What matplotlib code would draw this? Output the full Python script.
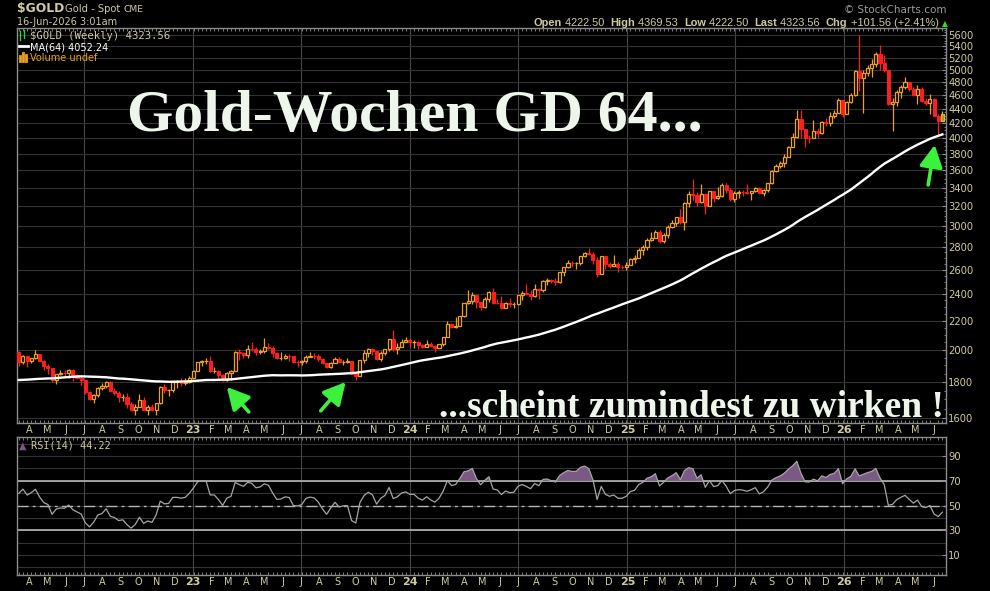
import matplotlib
matplotlib.use("Agg")
import matplotlib.pyplot as plt
import matplotlib.dates as mdates
from matplotlib.patches import Rectangle
from matplotlib.lines import Line2D
from matplotlib.ticker import FixedLocator, NullFormatter
import numpy as np
import pandas as pd

# weekly closes before the visible window (Dec 2020 - Mar 2022), only used to warm up MA(64) / RSI(14)
history_closes = [
    1839, 1881, 1877, 1895,
    1850, 1828, 1856, 1848, 1813, 1824, 1784, 1734, 1700, 1727, 1745, 1733, 1729,
    1744, 1777, 1777, 1769, 1831, 1844, 1881, 1903, 1892, 1877, 1764, 1781, 1783,
    1808, 1812, 1802, 1814, 1763, 1780, 1781, 1818, 1827, 1788, 1754, 1750, 1761,
    1757, 1768, 1793, 1783, 1818, 1865, 1846, 1788, 1783, 1784, 1798, 1811, 1829,
    1797, 1817, 1835, 1791, 1807, 1859, 1898, 1889, 1970, 1988,
]

first_week = "2022-03-14"

closes_2022 = [1921, 1958, 1925, 1945, 1974, 1931, 1896, 1883, 1811, 1846, 1853, 1851, 1871, 1840,
               1826, 1811, 1742, 1703, 1727, 1766, 1775, 1802, 1747, 1737, 1712, 1716, 1675, 1643,
               1660, 1695, 1644, 1656, 1644, 1681, 1769, 1751, 1754, 1797, 1797, 1793, 1798, 1824]
highs_2022 = [1990, 1966, 1950, 1948, 1998, 1958, 1935, 1910, 1885, 1850, 1870, 1874, 1877, 1879,
              1847, 1835, 1814, 1745, 1728, 1768, 1794, 1806, 1803, 1765, 1745, 1730, 1735, 1688,
              1676, 1730, 1715, 1668, 1675, 1682, 1774, 1786, 1758, 1804, 1810, 1824, 1823, 1833]
lows_2022 = [1895, 1910, 1890, 1915, 1940, 1925, 1872, 1850, 1798, 1787, 1840, 1828, 1825, 1805,
             1816, 1785, 1732, 1697, 1680, 1711, 1754, 1764, 1744, 1727, 1688, 1690, 1654, 1640,
             1615, 1660, 1640, 1617, 1638, 1616, 1676, 1737, 1722, 1742, 1766, 1774, 1785, 1795]

closes_2023 = [1865, 1920, 1926, 1928, 1865, 1865, 1842, 1811, 1856, 1868, 1988, 1978, 1969, 2008,
               2004, 1983, 1990, 2017, 2011, 1978, 1946, 1948, 1961, 1958, 1921, 1919, 1925, 1955,
               1962, 1959, 1943, 1914, 1889, 1915, 1940, 1919, 1924, 1925, 1849, 1833, 1933, 1981,
               2006, 1993, 1940, 1981, 2002, 2072, 2004, 2019, 2053, 2063]
highs_2023 = [1870, 1922, 1937, 1949, 1959, 1890, 1870, 1848, 1858, 1870, 1990, 2003, 1987, 2032,
              2049, 2015, 2003, 2081, 2048, 2022, 1985, 1985, 1970, 1971, 1960, 1933, 1935, 1963,
              1987, 1982, 1970, 1948, 1916, 1924, 1953, 1953, 1932, 1947, 1925, 1857, 1936, 1997,
              2009, 2010, 1993, 1994, 2008, 2075, 2135, 2047, 2070, 2088]
lows_2023 = [1824, 1866, 1896, 1911, 1862, 1855, 1819, 1808, 1804, 1809, 1880, 1934, 1949, 1950,
             1992, 1969, 1975, 1980, 2004, 1952, 1940, 1932, 1939, 1925, 1915, 1893, 1903, 1915,
             1951, 1942, 1926, 1911, 1885, 1884, 1913, 1915, 1901, 1913, 1846, 1810, 1833, 1918,
             1953, 1969, 1932, 1931, 1965, 1995, 1990, 1973, 2016, 2052]

closes_2024 = [2049, 2049, 2029, 2018, 2040, 2024, 2013, 2035, 2083, 2179, 2155, 2165, 2230, 2330,
               2344, 2391, 2337, 2301, 2360, 2415, 2334, 2327, 2294, 2333, 2321, 2326, 2391, 2411,
               2400, 2387, 2443, 2431, 2507, 2512, 2503, 2497, 2578, 2622, 2658, 2653, 2656, 2721,
               2747, 2736, 2685, 2563, 2716, 2650, 2633, 2648, 2622, 2621, 2640]
highs_2024 = [2079, 2062, 2060, 2037, 2066, 2049, 2032, 2041, 2088, 2195, 2185, 2223, 2236, 2331,
              2431, 2418, 2390, 2336, 2378, 2422, 2450, 2365, 2388, 2335, 2369, 2340, 2393, 2424,
              2484, 2433, 2477, 2444, 2510, 2531, 2525, 2529, 2581, 2625, 2685, 2673, 2665, 2722,
              2758, 2790, 2750, 2710, 2721, 2721, 2665, 2726, 2664, 2638, 2665]
lows_2024 = [2017, 2013, 2002, 2010, 2016, 2015, 1984, 2012, 2025, 2082, 2146, 2146, 2160, 2228,
             2325, 2325, 2292, 2277, 2291, 2335, 2326, 2323, 2286, 2295, 2303, 2293, 2319, 2352,
             2392, 2353, 2380, 2364, 2419, 2470, 2492, 2472, 2485, 2546, 2617, 2624, 2603, 2643,
             2708, 2730, 2644, 2536, 2564, 2605, 2613, 2627, 2583, 2602, 2596]

closes_2025 = [2690, 2703, 2771, 2800, 2861, 2883, 2936, 2858, 2910, 2984, 3023, 3084, 3037, 3237,
               3327, 3319, 3241, 3325, 3204, 3357, 3289, 3310, 3432, 3368, 3274, 3337, 3355, 3350,
               3337, 3363, 3398, 3336, 3371, 3447, 3586, 3643, 3685, 3760, 3886, 4018, 4250, 4113,
               4002, 4000, 4085, 4065, 4220, 4200, 4300, 4340, 4530, 4330]
highs_2025 = [2697, 2726, 2786, 2817, 2886, 2942, 2955, 2956, 2930, 3004, 3057, 3087, 3167, 3245,
              3357, 3500, 3352, 3435, 3345, 3366, 3365, 3403, 3446, 3452, 3398, 3366, 3369, 3375,
              3439, 3364, 3410, 3407, 3380, 3454, 3600, 3674, 3707, 3791, 3897, 4060, 4380, 4381,
              4060, 4038, 4245, 4133, 4230, 4265, 4355, 4375, 4550, 4510]
lows_2025 = [2635, 2656, 2696, 2730, 2772, 2858, 2880, 2833, 2832, 2880, 2982, 2999, 3015, 2957,
             3194, 3260, 3202, 3228, 3120, 3205, 3245, 3271, 3294, 3340, 3256, 3247, 3282, 3309,
             3324, 3268, 3352, 3330, 3311, 3352, 3436, 3578, 3628, 3640, 3760, 3880, 4000, 4004,
             3887, 3930, 3995, 4000, 4045, 4160, 4160, 4270, 4340, 4280]

closes_2026 = [4500, 4600, 4980, 4860, 4950, 5030, 5100, 5270, 5110, 4990, 4470, 4500, 4650, 4730,
               4800, 4700, 4600, 4690, 4520, 4490, 4540, 4300, 4222.00, 4323.56]
highs_2026 = [4520, 4640, 4990, 5600, 5000, 5080, 5170, 5290, 5420, 5240, 5000, 4560, 4680, 4760,
              4880, 4810, 4730, 4760, 4720, 4560, 4620, 4560, 4330, 4369.53]
lows_2026 = [4320, 4480, 4590, 4670, 4340, 4900, 4880, 5050, 5000, 4970, 4460, 4090, 4440, 4560,
             4700, 4670, 4580, 4470, 4500, 4450, 4330, 4280, 4040, 4222.50]
last_open = 4222.50

ma_label_value = 4052.24
rsi_label_value = 44.22

price_ticks = list(range(1600, 5601, 200))
rsi_ticks = [10, 30, 50, 70, 90]

# green arrows: (tail date, tail price, tip date, tip price)
arrows = [
    ("2023-04-05", 1632, "2023-02-27", 1771),
    ("2023-08-04", 1638, "2023-09-15", 1800),
    ("2026-05-22", 3430, "2026-06-02", 3910),
]

closes = closes_2022 + closes_2023 + closes_2024 + closes_2025 + closes_2026
highs = highs_2022 + highs_2023 + highs_2024 + highs_2025 + highs_2026
lows = lows_2022 + lows_2023 + lows_2024 + lows_2025 + lows_2026
opens = [history_closes[-1]] + closes[:-1]
opens[-1] = last_open

dates = pd.date_range(first_week, periods=len(closes), freq="7D")
hist_dates = pd.date_range(end=dates[0] - pd.Timedelta(days=7), periods=len(history_closes), freq="7D")
all_close = pd.Series(history_closes + closes, index=hist_dates.append(dates))

ma64 = all_close.rolling(64).mean().loc[dates]
delta = all_close.diff()
avg_gain = delta.clip(lower=0).ewm(alpha=1 / 14, adjust=False).mean()
avg_loss = (-delta.clip(upper=0)).ewm(alpha=1 / 14, adjust=False).mean()
rsi = (100 - 100 / (1 + avg_gain / avg_loss)).loc[dates]

# colours
BG = "black"
TAN = "#cfcba0"
UP = "#eea21c"
DOWN = "#ff1e1e"
GRID = "#333333"
VGRID = "#474747"
FRAME = "#8c8c8c"
RSI_FILL = "#7a5a84"
ARROW = "#3cf03c"
TITLE = "#eef6ec"

W, H = 990, 591
fig = plt.figure(figsize=(W / 100, H / 100), dpi=100, facecolor=BG)


def px_axes(left, top, right, bottom):
    return fig.add_axes([left / W, 1 - bottom / H, (right - left) / W, (bottom - top) / H], facecolor=BG)


def fxy(x, y):
    return x / W, 1 - y / H


ax = px_axes(17, 28, 946, 423)
rax = px_axes(17, 437, 946, 575)

xnum = mdates.date2num(dates)
xmin, xmax = mdates.date2num(pd.Timestamp("2022-03-11")), mdates.date2num(pd.Timestamp("2026-06-21"))
month_starts = pd.date_range("2022-04-01", "2026-06-01", freq="MS")
month_labels = [d.strftime("%y") if d.month == 1 else d.strftime("%b")[0] for d in month_starts]
grid_dates = [d for d in month_starts if d.month in (1, 7)]

# ---- price panel
ax.set_yscale("log")
ax.set_ylim(1574, 5730)
for d in grid_dates:
    ax.axvline(mdates.date2num(d), color=VGRID, lw=0.8, zorder=0)
ax.yaxis.grid(True, which="major", color=GRID, lw=0.8, zorder=0)

body_w = 5.2
n = len(closes)
for i in range(n):
    o, c, h, l = opens[i], closes[i], highs[i], lows[i]
    x = xnum[i]
    if i == n - 1:
        ax.vlines(x, l, h, color="#d8c030", lw=0.9, zorder=2)
        ax.add_patch(Rectangle((x - body_w / 2, min(o, c)), body_w, abs(c - o), facecolor="#a88e18",
                               edgecolor="#d8c030", lw=0.9, zorder=3))
        continue
    col = UP if c >= o else DOWN
    ax.vlines(x, l, h, color=col, lw=0.9, zorder=2)
    if c >= o:
        ax.add_patch(Rectangle((x - body_w / 2, o), body_w, max(c - o, 0.5), facecolor=BG,
                               edgecolor=col, lw=0.9, zorder=3))
    else:
        ax.add_patch(Rectangle((x - body_w / 2, c), body_w, o - c, facecolor=col,
                               edgecolor=col, lw=0.7, zorder=3))

ax.plot(xnum, ma64.values, color="white", lw=1.7, zorder=4)

ax.yaxis.tick_right()
ax.set_yticks(price_ticks, labels=[str(t) for t in price_ticks])
ax.yaxis.set_minor_locator(FixedLocator(list(range(1600, 5701, 50))))
ax.yaxis.set_minor_formatter(NullFormatter())

# ---- RSI panel
rax.set_ylim(-6.3, 105.5)
for v in range(0, 101, 10):
    rax.axhline(v, color=GRID, lw=0.8, zorder=0)
for d in grid_dates:
    rax.axvline(mdates.date2num(d), color=VGRID, lw=0.8, zorder=0)
rax.axhline(70, color="#c4c4c4", lw=1.1, zorder=1)
rax.axhline(30, color="#c4c4c4", lw=1.1, zorder=1)
rax.axhline(50, color="#b4b4b4", lw=1.0, ls=(0, (8, 3, 2, 3)), zorder=1)
rv = rsi.values
rax.fill_between(xnum, rv, 70, where=rv >= 70, interpolate=True, color=RSI_FILL, lw=0, zorder=2)
rax.fill_between(xnum, rv, 30, where=rv <= 30, interpolate=True, color=RSI_FILL, lw=0, zorder=2)
rax.plot(xnum, rv, color="#a6a6a6", lw=0.9, zorder=3)
rax.yaxis.tick_right()
rax.set_yticks(rsi_ticks, labels=[str(t) for t in rsi_ticks])

# ---- shared axis styling
for a in (ax, rax):
    a.set_xlim(xmin, xmax)
    a.set_xticks(mdates.date2num(month_starts), labels=month_labels)
    a.xaxis.set_minor_locator(FixedLocator(mdates.date2num(pd.date_range("2022-03-14", "2026-06-21", freq="7D"))))
    a.tick_params(axis="x", which="major", length=0, pad=1.5, labelsize=7, labelcolor=TAN)
    a.tick_params(axis="x", which="minor", length=2, direction="in", color=FRAME, top=True, bottom=True)
    a.tick_params(axis="y", which="major", length=3, direction="in", color=FRAME, pad=1.5,
                  labelsize=7.2, labelcolor=TAN)
    a.tick_params(axis="y", which="minor", length=1.5, direction="in", color=FRAME)
    for lab, txt in zip(a.get_xticklabels(), month_labels):
        if txt.isdigit():
            lab.set_fontweight("bold")
            lab.set_fontsize(8)
    for s in a.spines.values():
        s.set_color(FRAME)
        s.set_linewidth(1)

# ---- arrows
for tx, ty, hx, hy in arrows:
    ax.annotate("", xy=(mdates.date2num(pd.Timestamp(hx)), hy),
                xytext=(mdates.date2num(pd.Timestamp(tx)), ty),
                arrowprops=dict(arrowstyle="-|>,head_length=0.95,head_width=0.5", color=ARROW, lw=2.6,
                                mutation_scale=14, shrinkA=0, shrinkB=0), zorder=6)

# ---- big annotations
fig.text(*fxy(127, 131), "Gold-Wochen GD 64...", family="Liberation Serif", weight="bold",
         fontsize=43, color=TITLE, va="baseline", ha="left", zorder=10)
fig.text(*fxy(944, 417), "...scheint zumindest zu wirken !", family="Liberation Serif", weight="bold",
         fontsize=27, color=TITLE, va="baseline", ha="right", zorder=10)

# ---- header
fig.text(*fxy(17, 12), "$GOLD", fontsize=8.8, weight="bold", color=TAN, va="baseline")
fig.text(*fxy(65, 12), "Gold - Spot", fontsize=7.2, color=TAN, va="baseline")
fig.text(*fxy(123, 12), "CME", fontsize=6.6, color=TAN, va="baseline")
fig.text(*fxy(17, 25), "16-Jun-2026 3:01am", fontsize=7, color=TAN, va="baseline")
fig.text(*fxy(946, 13), "\u00a9 StockCharts.com", fontsize=7.5, color="#9a9a9a", va="baseline", ha="right")

chg = closes[-1] - closes[-2]
pct = chg / closes[-2] * 100
pieces = [("Open", "bold"), (f" {opens[-1]:.2f}  ", "normal"),
          ("High", "bold"), (f" {highs[-1]:.2f}  ", "normal"),
          ("Low", "bold"), (f" {lows[-1]:.2f}  ", "normal"),
          ("Last", "bold"), (f" {closes[-1]:.2f}  ", "normal"),
          ("Chg", "bold"), (f" {chg:+.2f} ({pct:+.2f}%) ", "normal")]
renderer = fig.canvas.get_renderer()
xpos = 534
for s, wgt in pieces:
    t = fig.text(*fxy(xpos, 26), s, family="Liberation Sans", fontsize=7.9, weight=wgt, color=TAN,
                 va="baseline", ha="left")
    xpos += t.get_window_extent(renderer).width
fig.text(*fxy(xpos, 26), "\u25b2", fontsize=5.5, color="#30e030", va="baseline", ha="left")

# ---- legends
fig.add_artist(Line2D([20 / W, 20 / W], [1 - 31 / H, 1 - 40 / H], color="#30d030", lw=1))
fig.add_artist(Line2D([24 / W, 24 / W], [1 - 30 / H, 1 - 38 / H], color="#30d030", lw=1))
fig.text(*fxy(30, 39), f"$GOLD (Weekly) {closes[-1]:.2f}", family="DejaVu Sans Mono", fontsize=7.6,
         color=TAN, va="baseline")
fig.add_artist(Line2D([19 / W, 28 / W], [1 - 46 / H, 1 - 46 / H], color="white", lw=2))
fig.text(*fxy(30, 50), f"MA(64) {ma_label_value:.2f}", fontsize=7, color="white", va="baseline")
for bx, bt in ((20, 56), (23, 53), (26, 55)):
    fig.add_artist(Line2D([bx / W, bx / W], [1 - 61 / H, 1 - bt / H], color=UP, lw=2))
fig.text(*fxy(30, 61), "Volume undef", fontsize=7, color=UP, va="baseline")

fig.text(*fxy(19, 449), "\u25b2", fontsize=7, color=RSI_FILL, va="baseline")
fig.text(*fxy(31, 449), f"RSI(14) {rsi_label_value:.2f}", family="DejaVu Sans Mono", fontsize=7.4,
         color=TAN, va="baseline")

fig.savefig("out.png", dpi=100, facecolor=BG)
